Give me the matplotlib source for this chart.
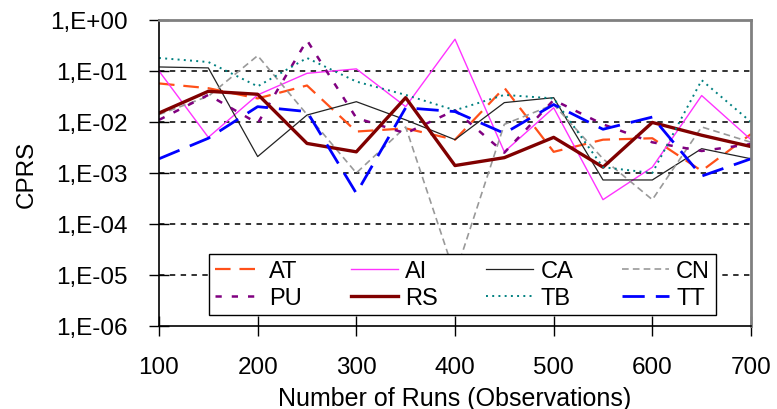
import numpy as np
import matplotlib.pyplot as plt
from matplotlib.ticker import FixedLocator, FuncFormatter, NullLocator

plt.rcParams['font.family'] = ['Liberation Sans', 'DejaVu Sans']

runs = [100, 150, 200, 250, 300, 350, 400, 450, 500, 550, 600, 650, 700]

AT = [0.057, 0.046, 0.029, 0.052, 0.0065, 0.0075, 0.0045, 0.047, 0.0026, 0.0045, 0.0048, 0.0011, 0.0058]
AI = [0.1, 0.005, 0.034, 0.09, 0.11, 0.02, 0.42, 0.0026, 0.019, 0.0003, 0.0013, 0.033, 0.0045]
CA = [0.12, 0.115, 0.0021, 0.0137, 0.025, 0.011, 0.0045, 0.024, 0.03, 0.00073, 0.00073, 0.003, 0.0019]
CN = [0.014, 0.032, 0.2, 0.014, 0.001, 0.008, 0.00001, 0.009, 0.022, 0.0019, 0.0003, 0.008, 0.004]
PU = [0.011, 0.034, 0.0094, 0.4, 0.012, 0.006, 0.017, 0.0025, 0.027, 0.009, 0.004, 0.0027, 0.0037]
RS = [0.015, 0.04, 0.035, 0.0038, 0.0026, 0.03, 0.0014, 0.002, 0.005, 0.0013, 0.0098, 0.0055, 0.0033]
TB = [0.18, 0.15, 0.05, 0.18, 0.062, 0.034, 0.017, 0.034, 0.029, 0.0013, 0.001, 0.066, 0.01]
TT = [0.0019, 0.0048, 0.02, 0.016, 0.0004, 0.019, 0.016, 0.006, 0.022, 0.0072, 0.0125, 0.00087, 0.0019]

fig = plt.figure(figsize=(7.77, 4.10), dpi=100)
ax = fig.add_axes([159 / 777, 1 - 327 / 410, 592 / 777, 306 / 410])

h = {}
h['AT'], = ax.plot(runs, AT, color='#FF5019', lw=1.6, dashes=(7, 4), label='AT')
h['AI'], = ax.plot(runs, AI, color='#FF33FF', lw=1.0, label='AI')
h['CA'], = ax.plot(runs, CA, color='#222222', lw=0.9, label='CA')
h['CN'], = ax.plot(runs, CN, color='#999999', lw=1.2, dashes=(4, 2.5), label='CN')
h['PU'], = ax.plot(runs, PU, color='#800080', lw=1.8, dashes=(2.5, 4), label='PU')
h['RS'], = ax.plot(runs, RS, color='#800000', lw=2.4, label='RS')
h['TB'], = ax.plot(runs, TB, color='#008080', lw=1.4, dashes=(1, 2.2), label='TB')
h['TT'], = ax.plot(runs, TT, color='#0000FF', lw=2.0, dashes=(8, 4), label='TT')

ax.set_yscale('log')
ax.set_ylim(1e-6, 1)
ax.set_xlim(100, 700)
ax.set_xticks(runs[::2])
ax.yaxis.set_major_locator(FixedLocator([10.0 ** k for k in range(-6, 1)]))
ax.yaxis.set_minor_locator(NullLocator())
ax.yaxis.set_major_formatter(FuncFormatter(lambda v, p: '1,E%+03d' % int(round(np.log10(v)))))
ax.tick_params(direction='inout', length=15, width=1, labelsize=17.5, colors='black')
ax.tick_params(axis='y', pad=15)
ax.tick_params(axis='x', pad=14)

for k in range(-5, 0):
    ax.axhline(10.0 ** k, color='#222222', lw=1.3, dashes=(3, 3), zorder=0)

ax.spines['left'].set_color('black')
ax.spines['bottom'].set_color('black')
ax.spines['left'].set_linewidth(1.2)
ax.spines['bottom'].set_linewidth(1.2)
ax.spines['top'].set_color('#808080')
ax.spines['right'].set_color('#808080')
ax.spines['top'].set_linewidth(2)
ax.spines['right'].set_linewidth(2)

ax.set_xlabel('Number of Runs (Observations)', fontsize=18, labelpad=6)
ax.set_ylabel('CPRS', fontsize=17.5, labelpad=9)

order = ['AT', 'PU', 'AI', 'RS', 'CA', 'TB', 'CN', 'TT']
leg = ax.legend([h[n] for n in order], order, ncol=4, fontsize=17,
                loc='lower left', bbox_to_anchor=(50 / 592, 11 / 306, 507 / 592, 64 / 306),
                mode='expand', borderaxespad=0, frameon=True, fancybox=False,
                handlelength=2.0, handletextpad=0.3, labelspacing=0.2,
                borderpad=0.25, framealpha=1)
leg.get_frame().set_edgecolor('black')
leg.get_frame().set_linewidth(1.0)

fig.savefig('out.png', dpi=100)
